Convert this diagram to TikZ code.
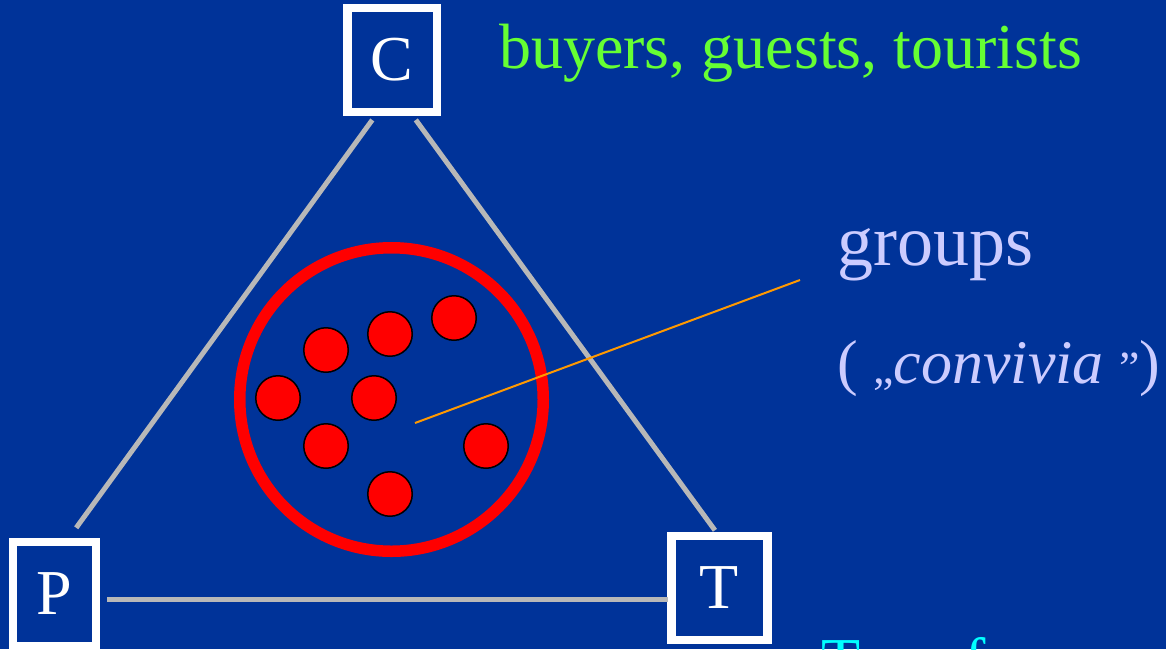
\documentclass[tikz,border=0pt]{standalone}
\usepackage{fontspec}
\setmainfont{LiberationSerif}[Extension=.ttf, UprightFont=*-Regular, ItalicFont=*-Italic, BoldFont=*-Bold, BoldItalicFont=*-BoldItalic]
\usetikzlibrary{calc}
\definecolor{bgblue}{RGB}{0,51,153}
\definecolor{sidegray}{RGB}{184,184,184}
\definecolor{guestgreen}{RGB}{102,255,51}
\definecolor{lavender}{RGB}{204,204,255}
\definecolor{ptrorange}{RGB}{255,153,0}
\definecolor{brightcyan}{RGB}{0,255,255}
\newcommand{\qmark}[1]{{\fontsize{46}{50}\selectfont #1}}
\tikzset{
  corner/.style={draw=white, line width=8.5pt, text=white, minimum height=104pt, minimum width=#1, inner sep=0pt, font=\fontsize{64}{64}\selectfont},
  member/.style={circle, draw=black, fill=red, line width=1.5pt, minimum size=44.5pt, inner sep=0pt},
  side/.style={draw=sidegray, line width=5pt},
  ptr/.style={draw=ptrorange, line width=2pt},
  lbl/.style={anchor=base west, inner sep=0pt, text=#1, font=\fontsize{64}{70}\selectfont},
}

\begin{document}
\begin{tikzpicture}[x=1pt, y=-1pt]
    \fill[bgblue] (0,0) rectangle (1166,649);
    \clip (0,0) rectangle (1166,649);
    % the three corners
    \node[corner=89.5pt] (C) at (392.25,60) {C};
    \node[corner=83pt] (P) at (54.5,594) {P};
    \node[corner=96pt] (T) at (719.5,588) {T};
    \coordinate (cApex) at (394,90);
    \coordinate (pCorner) at (24.5,599);
    \coordinate (tCorner) at (765,599);
    \draw[side, shorten <=37pt, shorten >=88pt] (cApex) -- (pCorner);
    \draw[side, shorten <=37pt, shorten >=85pt] (cApex) -- (tCorner);
    \draw[side, shorten <=82.5pt, shorten >=97pt] (pCorner) -- (tCorner);
    % the group
    \node[circle, draw=red, line width=11.5pt, minimum size=303.5pt, inner sep=0pt] (club) at (391.5,399.5) {};
    \foreach \x/\y [count=\i] in {326/350, 390/334, 454/318, 278/398, 374/398, 326/446, 486/446, 390/494}
      \node[member] (m\i) at (\x,\y) {};
    % labels
    \node[lbl=guestgreen] (guests) at (499,68) {buyers, guests, tourists};
    \node[lbl=lavender, font=\fontsize{72}{76}\selectfont] (groups) at (837,265) {groups};
    \node[lbl=lavender, font=\fontsize{62}{70}\selectfont] (convivia) at (837,383) {( \qmark{„}\textit{convivia} \qmark{”})};
    \node[lbl=brightcyan] (transfer) at (821,682) {Transfer};
    \coordinate (grpPt) at (415,423);
    \draw[ptr] (grpPt) -- ([xshift=-37pt, yshift=-15pt]groups.base west);
  \end{tikzpicture}
\end{document}
